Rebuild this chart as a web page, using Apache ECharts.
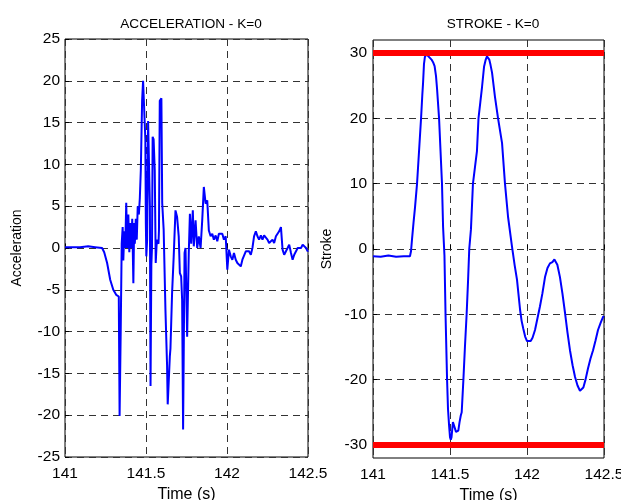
<!DOCTYPE html>
<html><head><meta charset="utf-8">
<script src="https://cdn.jsdelivr.net/npm/echarts@6/dist/echarts.min.js"></script>
<style>html,body{margin:0;padding:0;background:#fff}#c{width:621px;height:500px}</style>
</head><body><div id="c"></div>
<script>
const titles = ['ACCELERATION - K=0', 'STROKE - K=0'];
const xName = 'Time (s)';
const yNames = ['Acceleration', 'Stroke'];
const xRange = [141, 142.5];
const xTickStep = 0.5;
const accRange = [-25, 25];
const accTickStep = 5;
const strokeRange = [-32, 32];
const strokeTicks = [-30, -20, -10, 0, 10, 20, 30];
const strokeLimits = [30, -30];

const accTime = [141.000,141.031,141.093,141.143,141.186,141.229,141.242,141.260,141.279,141.298,141.316,141.332,141.337,141.344,141.350,141.356,141.360,141.366,141.372,141.378,141.384,141.391,141.397,141.403,141.409,141.415,141.422,141.427,141.431,141.437,141.443,141.449,141.456,141.462,141.468,141.476,141.482,141.490,141.496,141.499,141.502,141.507,141.513,141.521,141.524,141.528,141.533,141.537,141.541,141.547,141.554,141.560,141.567,141.577,141.580,141.585,141.595,141.600,141.609,141.620,141.630,141.634,141.640,141.647,141.651,141.661,141.671,141.682,141.692,141.702,141.709,141.717,141.723,141.729,141.738,141.744,141.754,141.764,141.771,141.779,141.789,141.795,141.806,141.816,141.826,141.837,141.847,141.857,141.864,141.868,141.878,141.888,141.899,141.909,141.919,141.930,141.940,141.950,141.971,141.981,141.992,142.002,142.012,142.023,142.033,142.043,142.054,142.064,142.074,142.085,142.095,142.105,142.116,142.126,142.136,142.147,142.157,142.167,142.178,142.188,142.198,142.209,142.219,142.229,142.240,142.250,142.260,142.271,142.281,142.291,142.302,142.312,142.322,142.333,142.343,142.353,142.364,142.374,142.384,142.395,142.405,142.415,142.426,142.436,142.446,142.457,142.467,142.477,142.488,142.498,142.500];
const accValue = [0.1,0.1,0.1,0.2,0.1,0.0,-0.5,-1.8,-3.8,-5.0,-5.6,-5.8,-20.1,-9.8,0.5,2.5,-1.5,2.0,0.0,5.4,0.0,4.0,-0.5,3.0,0.0,3.5,-4.2,3.0,0.5,3.5,1.0,5.0,4.0,6.0,9.3,17.6,20.0,19.8,13.0,3.0,-1.0,1.0,15.2,15.4,5.0,-16.5,-2.0,0.0,13.3,13.0,9.3,-1.8,1.0,0.5,2.1,17.6,17.9,5.4,2.2,-7.4,-14.0,-18.7,-18.7,-13.0,-12.0,-5.4,-1.0,4.5,3.7,1.4,-3.0,-3.4,-6.2,-21.7,-0.6,0.0,-10.6,-0.6,4.1,0.5,4.5,0.2,3.3,0.0,1.4,0.0,3.3,7.3,7.5,5.3,5.7,2.1,1.4,1.7,1.0,1.5,0.8,1.7,1.7,1.0,1.4,-2.6,-0.2,-1.0,-1.4,-0.6,-1.4,-1.8,-2.0,-2.2,-1.4,-1.2,-0.4,-0.6,-0.4,-0.8,0.0,1.4,2.0,1.4,1.0,1.5,1.0,1.5,1.4,1.0,0.6,0.8,1.0,0.6,1.4,1.2,2.0,2.5,-0.2,-0.8,-0.6,0.0,0.4,-0.6,-1.4,-0.8,-0.4,0.0,0.1,0.0,0.4,0.2,0.0,-0.4,-0.3];

const strokeTime = [141.000,141.050,141.100,141.150,141.200,141.240,141.247,141.253,141.263,141.273,141.286,141.299,141.312,141.320,141.325,141.331,141.337,141.345,141.351,141.360,141.370,141.380,141.390,141.400,141.409,141.416,141.429,141.448,141.455,141.464,141.471,141.481,141.487,141.494,141.500,141.505,141.510,141.515,141.519,141.525,141.531,141.539,141.546,141.554,141.562,141.570,141.576,141.587,141.597,141.608,141.617,141.625,141.636,141.649,141.662,141.675,141.685,141.697,141.708,141.721,141.732,141.740,141.748,141.755,141.763,141.773,141.792,141.812,141.838,141.857,141.877,141.903,141.920,141.935,141.955,141.965,141.976,141.988,142.000,142.012,142.024,142.036,142.052,142.068,142.084,142.100,142.117,142.133,142.149,142.165,142.178,142.186,142.197,142.214,142.230,142.247,142.263,142.279,142.296,142.312,142.328,142.344,142.355,142.366,142.380,142.396,142.412,142.429,142.445,142.461,142.478,142.494,142.500];
const strokeValue = [-1.1,-1.2,-1.0,-1.2,-1.1,-1.1,-0.3,1.4,4.0,6.4,10,15,20,23.5,25.4,28.3,29.4,29.8,29.7,29.5,29.2,29.0,28.6,28.0,26.5,24.5,20,10,3.4,-1,-10,-20,-24.5,-27,-28.8,-29.2,-28.8,-27.5,-26.5,-26.2,-26.8,-28,-28.2,-27.8,-26.5,-25.5,-25,-20,-15,-10,-5,0,3,10,12.5,15,20,22.5,24.8,27.9,29,29.5,29.3,29,28.2,27,23.3,20,16.2,10,4.9,0.3,-2.5,-4.7,-9.3,-11,-12.2,-13.4,-14.1,-14.3,-14.1,-13.6,-12.4,-10.6,-8.8,-6.8,-4.3,-2.9,-2.2,-2.0,-1.6,-1.7,-2.4,-4.3,-6.8,-9.8,-12.8,-15.5,-17.8,-19.6,-20.9,-21.7,-21.8,-21.2,-20.0,-18.3,-16.8,-15.5,-14.0,-12.4,-11.3,-10.4,-10.3];

const zip = (a, b) => a.map((t, i) => [t, b[i]]);
const FONT = 'Liberation Sans, Arial, Helvetica, sans-serif';
const gridLine = { show: true, lineStyle: { color: '#333', width: 1, type: [7, 5] } };
const lbl = { color: '#000', fontFamily: FONT, fontSize: 15.5 };
const xNameStyle = { color: '#000', fontFamily: FONT, fontSize: 16 };
const yNameStyle = { color: '#000', fontFamily: FONT, fontSize: 14 };
const titleStyle = { fontFamily: FONT, fontSize: 13.6, fontWeight: 'normal', color: '#000' };
const tick = { show: true, inside: true, length: 4, lineStyle: { color: '#000' } };

const chart = echarts.init(document.getElementById('c'), null, { renderer: 'canvas' });
chart.setOption({
  animation: false,
  backgroundColor: '#fff',
  title: [
    { text: titles[0], left: 186, top: 12, textAlign: 'center', textStyle: titleStyle },
    { text: titles[1], left: 488, top: 12, textAlign: 'center', textStyle: titleStyle }
  ],
  grid: [
    { left: 65, right: 313, top: 39, bottom: 43, show: true, borderColor: '#000', borderWidth: 1, containLabel: false, outerBoundsMode: 'none' },
    { left: 373, right: 17, top: 40, bottom: 42, show: true, borderColor: '#000', borderWidth: 1, containLabel: false, outerBoundsMode: 'none' }
  ],
  xAxis: [0, 1].map(i => ({
    type: 'value', gridIndex: i, min: xRange[0], max: xRange[1], interval: xTickStep,
    name: xName, nameLocation: 'middle', nameGap: 29, nameTextStyle: xNameStyle,
    axisLine: { show: false }, axisTick: tick,
    axisLabel: Object.assign({ margin: 9 }, lbl), splitLine: gridLine
  })),
  yAxis: [
    { type: 'value', gridIndex: 0, min: accRange[0], max: accRange[1], interval: accTickStep,
      name: yNames[0], nameLocation: 'middle', nameGap: 41, nameTextStyle: yNameStyle,
      axisLine: { show: false }, axisTick: tick,
      axisLabel: Object.assign({ margin: 5 }, lbl), splitLine: gridLine },
    { type: 'value', gridIndex: 1, min: strokeRange[0], max: strokeRange[1],
      name: yNames[1], nameLocation: 'middle', nameGap: 39, nameTextStyle: yNameStyle,
      axisLine: { show: false },
      axisTick: Object.assign({ customValues: strokeTicks }, tick),
      axisLabel: Object.assign({ margin: 6, customValues: strokeTicks }, lbl), splitLine: gridLine }
  ],
  series: [
    { type: 'line', xAxisIndex: 0, yAxisIndex: 0, data: zip(accTime, accValue), showSymbol: false, symbol: 'none',
      lineStyle: { color: '#0000ff', width: 2 }, z: 3 },
    { type: 'line', xAxisIndex: 1, yAxisIndex: 1, data: zip(strokeTime, strokeValue), showSymbol: false, symbol: 'none',
      lineStyle: { color: '#0000ff', width: 2 }, z: 3 },
    ...strokeLimits.map(v => ({ type: 'line', xAxisIndex: 1, yAxisIndex: 1, data: zip(xRange, [v, v]), showSymbol: false, symbol: 'none',
      lineStyle: { color: '#ff0000', width: 6 }, z: 4 }))
  ]
});
</script></body></html>
